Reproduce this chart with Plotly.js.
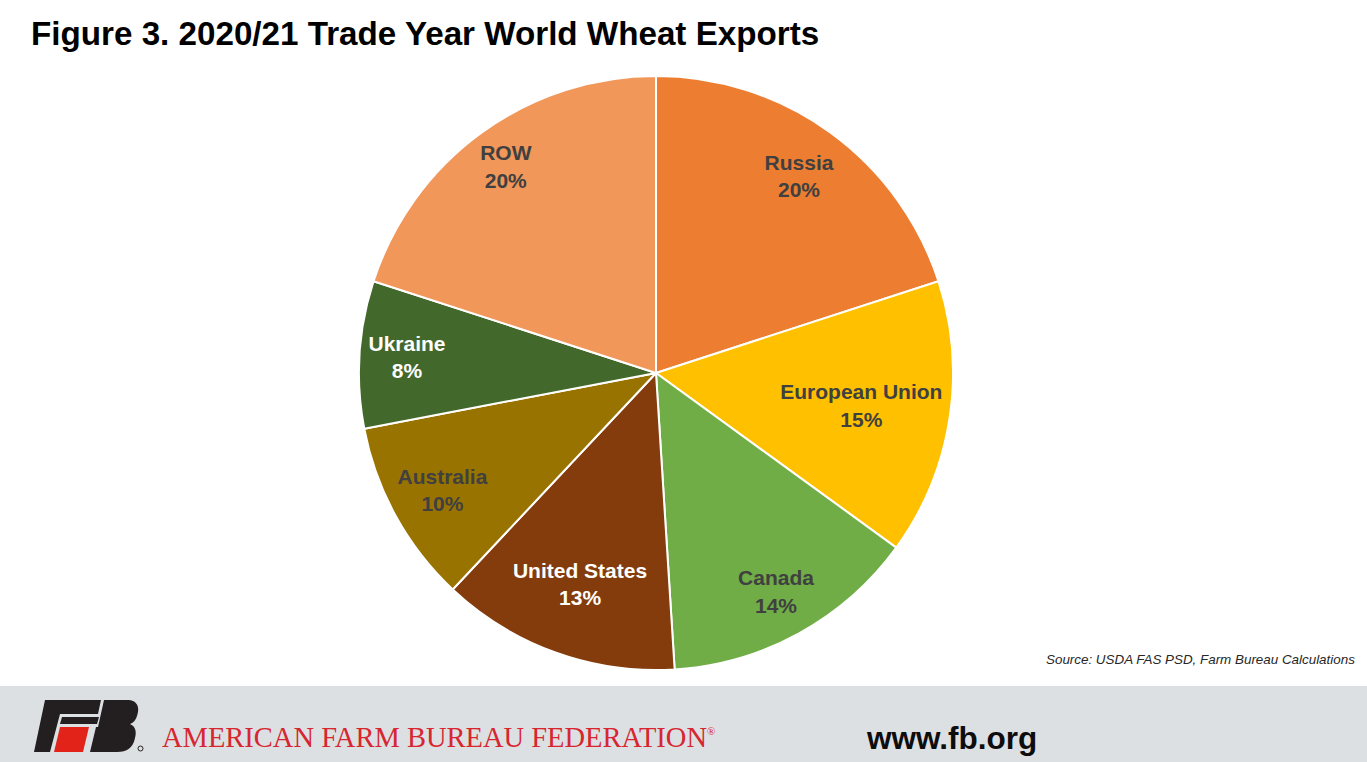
<!DOCTYPE html>
<html>
<head>
<meta charset="utf-8">
<script src="https://cdn.plot.ly/plotly-3.0.1.min.js"></script>
<style>
  html, body { margin: 0; padding: 0; background: #ffffff; }
  #chart { width: 1367px; height: 762px; }
</style>
</head>
<body>
<div id="chart"></div>
<script>
// ---- Data ----
const categories = ["Russia", "European Union", "Canada", "United States", "Australia", "Ukraine", "ROW"];
const sharePercent = [20, 15, 14, 13, 10, 8, 20];
const sliceColors = ["#ED7D31", "#FFC000", "#70AD47", "#843C0C", "#997300", "#43682B", "#F1975A"];
const labelColors = ["#404040", "#404040", "#404040", "#ffffff", "#404040", "#ffffff", "#404040"];

const titleText = "Figure 3. 2020/21 Trade Year World Wheat Exports";
const sourceText = "Source: USDA FAS PSD, Farm Bureau Calculations";
const orgText = "AMERICAN FARM BUREAU FEDERATION";
const urlText = "www.fb.org";

// ---- Layout helpers (figure pixel -> paper) ----
const W = 1367, H = 762;
const px = x => x / W;
const py = y => 1 - y / H;
function pathPx(cmds) {
  return cmds.map(c => {
    const L = c[0];
    const nums = c.slice(1);
    const out = [];
    for (let i = 0; i < nums.length; i += 2) {
      out.push(px(nums[i]).toFixed(5) + "," + py(nums[i + 1]).toFixed(5));
    }
    return L + (out.length ? out.join(" ") : "");
  }).join(" ");
}

const cx = 656, cy = 373, R = 297;
const pieDomain = { x: [px(cx - R), px(cx + R)], y: [py(cy + R), py(cy - R)] };

// Base pie: the coloured slices
const baseTrace = {
  type: "pie",
  labels: categories,
  values: sharePercent,
  sort: false,
  direction: "clockwise",
  rotation: 0,
  marker: { colors: sliceColors, line: { color: "#ffffff", width: 2 } },
  textinfo: "none",
  hoverinfo: "label+percent",
  domain: pieDomain,
  showlegend: false
};

// Transparent overlay rings that place each slice's label at a radius
// similar to the reference (label radius depends on ring hole size).
const labelRingHole = [0.64, 0.40, 0.68, 0.51, 0.64, 0.68, 0.72];
const labelTraces = categories.map((name, i) => ({
  type: "pie",
  labels: categories,
  values: sharePercent,
  sort: false,
  direction: "clockwise",
  rotation: 0,
  hole: labelRingHole[i],
  marker: { colors: categories.map(() => "rgba(0,0,0,0)"), line: { width: 0 } },
  texttemplate: "%{label}<br>%{value}%",
  textposition: categories.map((_, j) => (j === i ? "inside" : "none")),
  insidetextorientation: "horizontal",
  textfont: { family: "Liberation Sans, Arial, sans-serif", size: 21, color: labelColors, weight: "bold" },
  hoverinfo: "skip",
  domain: pieDomain,
  showlegend: false
}));

const shapes = [
  // footer band
  { type: "rect", xref: "paper", yref: "paper", x0: 0, x1: 1, y0: 0, y1: py(686),
    fillcolor: "#DDE0E3", line: { width: 0 }, layer: "below" },
  // FB logo - F top bar and stem
  { type: "path", xref: "paper", yref: "paper", fillcolor: "#231F20", line: { width: 0 },
    path: pathPx([["M", 45, 700], ["L", 101, 700], ["L", 98, 714], ["L", 60, 714], ["L", 50, 752], ["L", 34, 752], ["Z"]]) },
  // F middle bar
  { type: "path", xref: "paper", yref: "paper", fillcolor: "#231F20", line: { width: 0 },
    path: pathPx([["M", 62, 717], ["L", 99, 717], ["L", 97, 724], ["L", 60, 724], ["Z"]]) },
  // red stripe
  { type: "path", xref: "paper", yref: "paper", fillcolor: "#E2231A", line: { width: 0 },
    path: pathPx([["M", 60, 727], ["L", 89, 727], ["L", 83, 752], ["L", 54, 752], ["Z"]]) },
  // B
  { type: "path", xref: "paper", yref: "paper", fillcolor: "#231F20", line: { width: 0 },
    path: pathPx([["M", 104, 700], ["L", 127, 700], ["C", 138, 700, 140, 708, 137, 716], ["C", 136, 720, 133, 723, 130, 724],
                  ["C", 135, 726, 137, 731, 135, 738], ["C", 133, 748, 127, 752, 117, 752], ["L", 90, 752], ["L", 96, 727], ["L", 98, 727], ["Z"]]) },
  // registered mark circle
  { type: "circle", xref: "paper", yref: "paper", x0: px(138), x1: px(143), y0: py(751), y1: py(746),
    line: { color: "#231F20", width: 1 } }
];

const annotations = [
  { text: "<b>" + titleText + "</b>", xref: "paper", yref: "paper", x: px(29), y: py(34),
    xanchor: "left", yanchor: "middle", showarrow: false,
    font: { family: "Liberation Sans, Arial, sans-serif", size: 33.2, color: "#000000" } },
  { text: "<i>" + sourceText + "</i>", xref: "paper", yref: "paper", x: px(1357), y: py(659),
    xanchor: "right", yanchor: "middle", showarrow: false,
    font: { family: "Liberation Sans, Arial, sans-serif", size: 13.4, color: "#262626" } },
  { text: orgText + "<sup><span style=\"font-size:11px\">®</span></sup>", xref: "paper", yref: "paper", x: px(160), y: py(737),
    xanchor: "left", yanchor: "middle", showarrow: false,
    font: { family: "Liberation Serif, Times New Roman, serif", size: 28.5, color: "#D7262F" } },
  { text: "<b>" + urlText + "</b>", xref: "paper", yref: "paper", x: px(864), y: py(738),
    xanchor: "left", yanchor: "middle", showarrow: false,
    font: { family: "Liberation Sans, Arial, sans-serif", size: 31.5, color: "#0d0d0d" } }
];

const layout = {
  width: W, height: H,
  margin: { l: 0, r: 0, t: 0, b: 0 },
  paper_bgcolor: "#ffffff",
  showlegend: false,
  shapes: shapes,
  annotations: annotations
};

Plotly.newPlot("chart", [baseTrace].concat(labelTraces), layout, { displayModeBar: false, staticPlot: true });
</script>
</body>
</html>
